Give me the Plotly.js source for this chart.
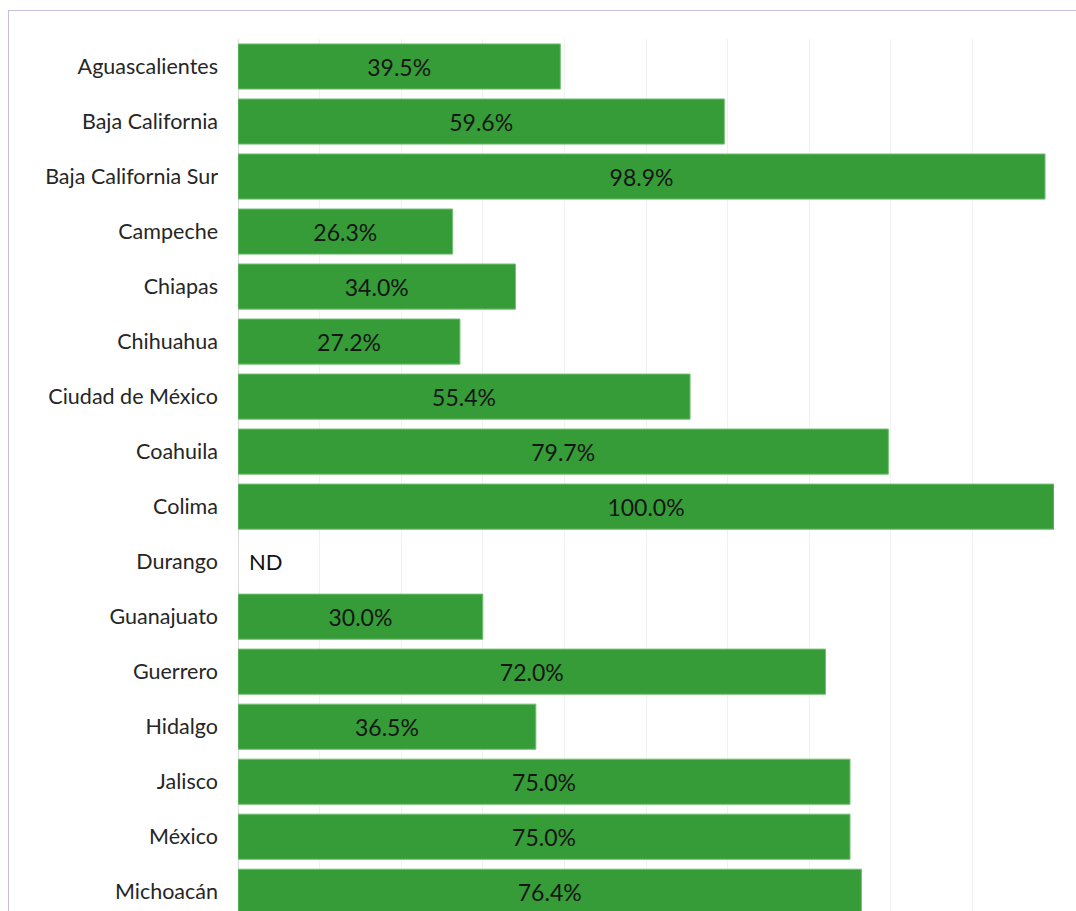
<!DOCTYPE html>
<html>
<head>
<meta charset="utf-8">
<script src="https://cdn.plot.ly/plotly-3.0.1.min.js"></script>
<style>
  html, body { margin: 0; padding: 0; background: #ffffff; overflow: hidden; }
  #frame { position: absolute; left: 8px; top: 10px; width: 1100px; height: 960px;
           border-left: 1.5px solid #c8bddb; border-top: 1.5px solid #c8bddb; }
  #chart { position: absolute; left: 0; top: 0; width: 1076px; height: 911px; }
</style>
</head>
<body>
<div id="frame"></div>
<div id="chart"></div>
<script>
const states = ["Aguascalientes", "Baja California", "Baja California Sur", "Campeche", "Chiapas",
  "Chihuahua", "Ciudad de México", "Coahuila", "Colima", "Durango", "Guanajuato", "Guerrero",
  "Hidalgo", "Jalisco", "México", "Michoacán"];
const values = [39.5, 59.6, 98.9, 26.3, 34.0, 27.2, 55.4, 79.7, 100.0, null, 30.0, 72.0,
  36.5, 75.0, 75.0, 76.4];
const missingLabel = "ND";

const labels = values.map(v => v === null ? "" : v.toFixed(1) + "%");

const trace = {
  type: "bar",
  orientation: "h",
  y: states,
  x: values,
  text: labels,
  textposition: "inside",
  insidetextanchor: "middle",
  textangle: 0,
  textfont: { family: "Lato, sans-serif", size: 23, color: "#161616" },
  marker: { color: "#359c37", line: { color: "#72c072", width: 1 } },
  hoverinfo: "skip",
  cliponaxis: true
};

const annotations = [];
values.forEach((v, i) => {
  if (v === null) {
    annotations.push({
      x: 0, y: states[i], xref: "x", yref: "y", text: missingLabel,
      showarrow: false, xanchor: "left", xshift: 9,
      font: { family: "Lato, sans-serif", size: 22, color: "#111111" }
    });
  }
});

const layout = {
  width: 1076, height: 911,
  margin: { l: 238, r: 22, t: 39, b: 0 },
  paper_bgcolor: "rgba(0,0,0,0)",
  plot_bgcolor: "rgba(0,0,0,0)",
  showlegend: false,
  bargap: 0.18,
  font: { family: "Lato, sans-serif", size: 22, color: "#222222" },
  xaxis: {
    range: [0, 100], dtick: 10, showticklabels: false, ticks: "",
    showgrid: true, gridcolor: "#f1f1f1", gridwidth: 1,
    zeroline: true, zerolinecolor: "#dcdcdc", zerolinewidth: 1, fixedrange: true
  },
  yaxis: {
    type: "category", range: [15.35, -0.5], autorange: false,
    ticks: "", ticklabelstandoff: 19, showgrid: false, zeroline: false,
    tickfont: { family: "Lato, sans-serif", size: 21.5, color: "#262626" }
  },
  annotations: annotations
};

Plotly.newPlot("chart", [trace], layout, { displayModeBar: false, staticPlot: true });
</script>
</body>
</html>
